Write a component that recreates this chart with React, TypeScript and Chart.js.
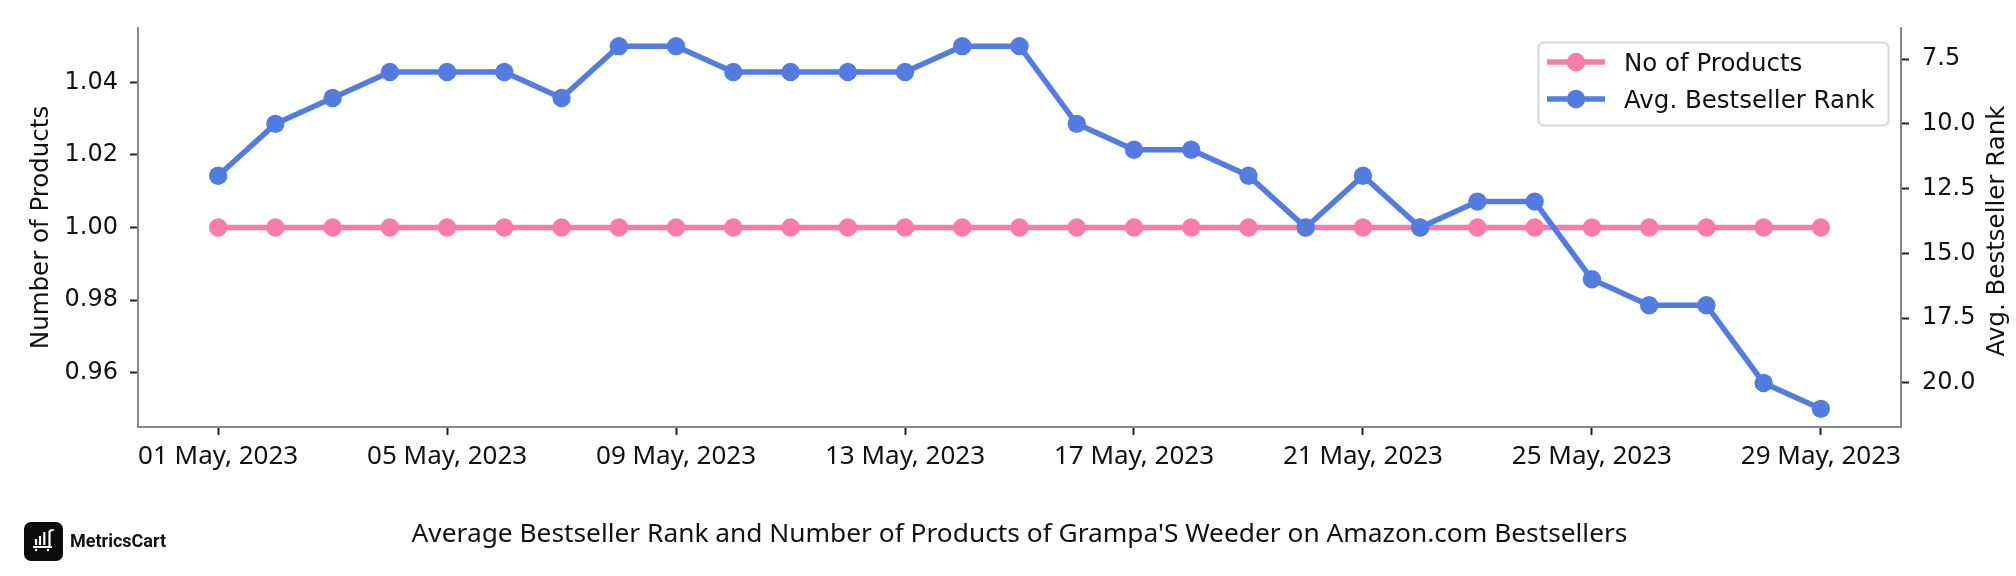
import React, { useEffect, useRef } from "react";
import { Chart, registerables } from "chart.js";

Chart.register(...registerables);

const categories = [
  "01 May, 2023","02 May, 2023","03 May, 2023","04 May, 2023","05 May, 2023","06 May, 2023","07 May, 2023","08 May, 2023",
  "09 May, 2023","10 May, 2023","11 May, 2023","12 May, 2023","13 May, 2023","14 May, 2023","15 May, 2023","16 May, 2023",
  "17 May, 2023","18 May, 2023","19 May, 2023","20 May, 2023","21 May, 2023","22 May, 2023","23 May, 2023","24 May, 2023",
  "25 May, 2023","26 May, 2023","27 May, 2023","28 May, 2023","29 May, 2023",
];
const products = [1,1,1,1,1,1,1,1,1,1,1,1,1,1,1,1,1,1,1,1,1,1,1,1,1,1,1,1,1];
const ranks = [12,10,9,8,8,8,9,7,7,8,8,8,8,7,7,10,11,11,12,14,12,14,13,13,16,17,17,20,21];
const xTickIndexes = [0,4,8,12,16,20,24,28];
const leftTicks = [0.96,0.98,1.0,1.02,1.04];
const rightTicks = [7.5,10,12.5,15,17.5,20];
const chartTitle = "Average Bestseller Rank and Number of Products of Grampa'S Weeder on Amazon.com Bestsellers";
const rightTitle = "Avg. Bestseller Rank";

const PINK = "#F97CA8";
const BLUE = "#537CE0";
const SPINE = "#888888";
const INK = "#111111";
const WIDE = "'DejaVu Sans', sans-serif";
const NOTO = "'Noto Sans', sans-serif";

const legendBox = {
  id: "legendBox",
  afterDatasetsDraw(chart: any) {
    const c = chart.ctx;
    const items = chart.data.datasets;
    c.save();
    c.beginPath();
    c.roundRect(1538.5, 42.5, 350, 83, 5);
    c.fillStyle = "rgba(255,255,255,0.8)";
    c.fill();
    c.strokeStyle = "#D6D6D6";
    c.lineWidth = 2;
    c.stroke();
    items.forEach((d: any, i: number) => {
      const y = 62 + i * 37;
      c.beginPath();
      c.moveTo(1547, y);
      c.lineTo(1605, y);
      c.strokeStyle = d.borderColor;
      c.lineWidth = 5.5;
      c.stroke();
      c.beginPath();
      c.arc(1576, y, 9.2, 0, Math.PI * 2);
      c.fillStyle = d.borderColor;
      c.fill();
      c.fillStyle = INK;
      c.font = `24.5px ${WIDE}`;
      c.textBaseline = "middle";
      c.textAlign = "left";
      c.fillText(d.label, 1624, y + 2.5);
    });
    c.restore();
  },
};

const rightAxisTitle = {
  id: "rightAxisTitle",
  afterDraw(chart: any) {
    const c = chart.ctx;
    c.save();
    c.translate(1998, 231);
    c.rotate(-Math.PI / 2);
    c.fillStyle = INK;
    c.font = `24.5px ${WIDE}`;
    c.textAlign = "center";
    c.textBaseline = "middle";
    c.fillText(rightTitle, 0, 0);
    c.restore();
  },
};

export default function App() {
  const ref = useRef<HTMLCanvasElement>(null);
  useEffect(() => {
    document.body.style.margin = "0";
    const tick = { color: INK, font: { family: WIDE, size: 24 } };
    const grid = { drawOnChartArea: false, drawTicks: true, tickLength: 8, tickColor: "#222222", tickWidth: 2 };
    const border = { color: SPINE, width: 2 };
    const chart = new Chart(ref.current!, {
      type: "line",
      data: {
        datasets: [
          {
            label: "No of Products",
            data: products.map((y, x) => ({ x, y })),
            yAxisID: "y",
            borderColor: PINK,
            backgroundColor: PINK,
            borderWidth: 5.5,
            pointRadius: 9.2,
            pointHoverRadius: 9.2,
            pointBorderWidth: 0,
            order: 2,
          },
          {
            label: "Avg. Bestseller Rank",
            data: ranks.map((y, x) => ({ x, y })),
            yAxisID: "y1",
            borderColor: BLUE,
            backgroundColor: BLUE,
            borderWidth: 5.5,
            pointRadius: 9.2,
            pointHoverRadius: 9.2,
            pointBorderWidth: 0,
            order: 1,
          },
        ],
      },
      options: {
        responsive: false,
        animation: false,
        layout: { padding: { top: 28, left: 0, right: 0, bottom: 0 } },
        plugins: { legend: { display: false }, tooltip: { enabled: false }, title: { display: false } },
        scales: {
          x: {
            type: "linear",
            min: -1.4,
            max: 29.4,
            grid,
            border,
            ticks: {
              color: INK,
              font: { family: NOTO, size: 26 },
              padding: 6,
              maxRotation: 0,
              autoSkip: false,
              callback: (v: any) => categories[v] ?? "",
            },
            afterBuildTicks: (s: any) => { s.ticks = xTickIndexes.map((value) => ({ value })); },
            afterFit: (s: any) => { s.height = 149; },
            title: {
              display: true,
              text: chartTitle,
              color: INK,
              font: { family: NOTO, size: 26.3 },
              padding: { top: 0, bottom: 26 },
            },
          },
          y: {
            position: "left",
            min: 0.945,
            max: 1.055,
            grid,
            border,
            ticks: { ...tick, padding: 12, callback: (v: any) => Number(v).toFixed(2) },
            afterBuildTicks: (s: any) => { s.ticks = leftTicks.map((value) => ({ value })); },
            afterFit: (s: any) => { s.width = 138; },
            title: {
              display: true,
              text: "Number of Products",
              color: INK,
              font: { family: WIDE, size: 24.5 },
              padding: { top: 26.5, bottom: 0 },
            },
          },
          y1: {
            position: "right",
            min: 6.3,
            max: 21.7,
            reverse: true,
            grid,
            border,
            ticks: { ...tick, padding: 13, callback: (v: any) => Number(v).toFixed(1) },
            afterBuildTicks: (s: any) => { s.ticks = rightTicks.map((value) => ({ value })); },
            afterFit: (s: any) => { s.width = 115; },
          },
        },
      } as any,
      plugins: [legendBox, rightAxisTitle],
    } as any);
    return () => chart.destroy();
  }, []);
  return (
    <div style={{ position: "relative", width: 2016, height: 576, overflow: "hidden", background: "#fff" }}>
      <canvas ref={ref} width={2016} height={576} style={{ display: "block" }} />
      <svg width={39} height={39} viewBox="0 0 39 39" style={{ position: "absolute", left: 24, top: 522 }}>
        <rect width={39} height={39} rx={7} fill="#0b0b0b" />
        <path d="M12 23 V17 M16 23 V14 M20.3 23 V10 M25.5 25 V10 Q25.5 8 29.7 8" stroke="#fff" strokeWidth={2.2} fill="none" />
        <path d="M9 25 H28" stroke="#fff" strokeWidth={2} />
        <circle cx={12} cy={28} r={1.2} fill="#fff" />
        <circle cx={24} cy={28} r={1.2} fill="#fff" />
      </svg>
      <div style={{ position: "absolute", left: 70, top: 530, font: "700 18px Roboto, sans-serif", color: "#111" }}>MetricsCart</div>
    </div>
  );
}
